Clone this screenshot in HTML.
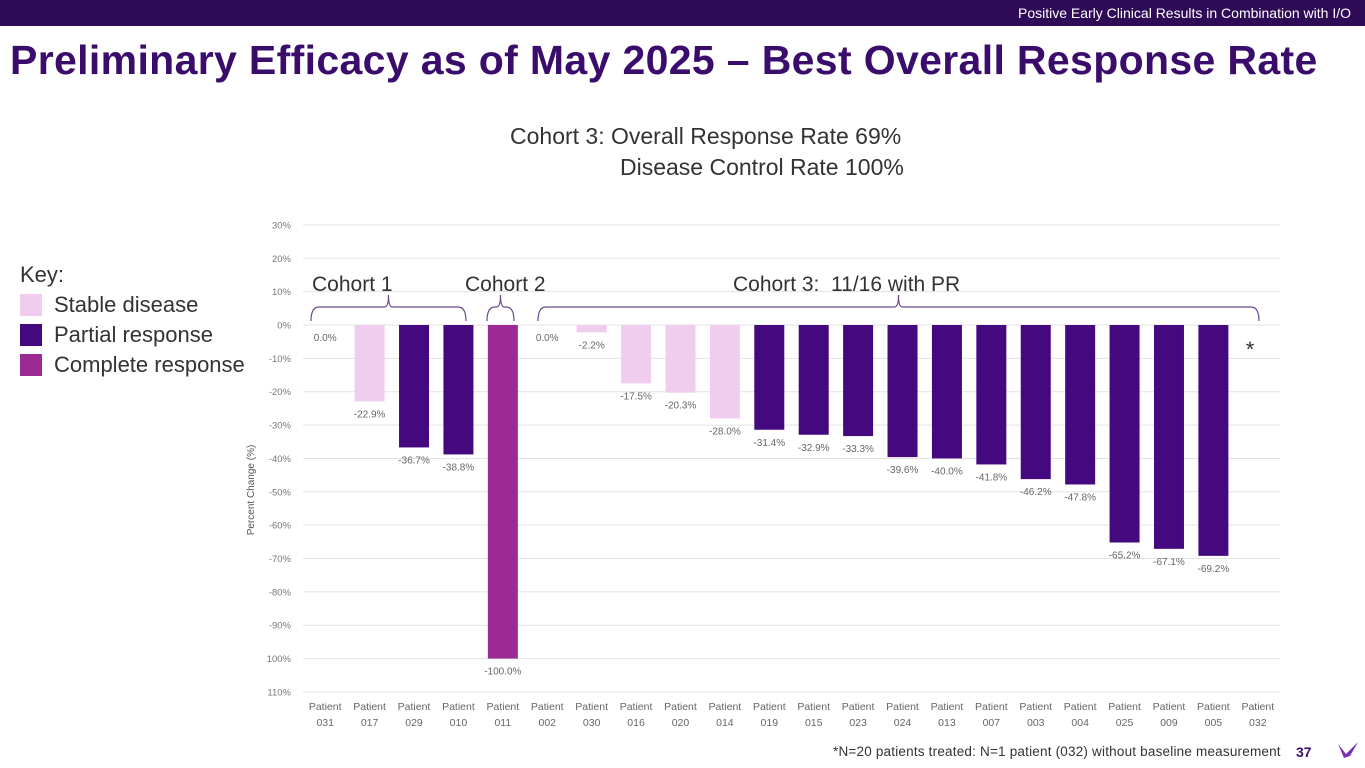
<!DOCTYPE html>
<html><head><meta charset="utf-8"><style>
body{margin:0;width:1365px;height:768px;overflow:hidden;background:#fff;font-family:"Liberation Sans",sans-serif;position:relative}
.abs{position:absolute}
</style></head><body>
<div class="abs" style="left:0;top:0;width:1365px;height:26px;background:#2e0a57"></div>
<div class="abs" style="right:14px;top:5px;color:#fff;font-size:14px">Positive Early Clinical Results in Combination with I/O</div>
<div class="abs" style="left:10px;top:37px;color:#3a0d6c;font-size:41px;letter-spacing:0.35px;font-weight:bold;white-space:nowrap">Preliminary Efficacy as of May 2025 – Best Overall Response Rate</div>
<div class="abs" style="left:510px;top:121px;color:#333;font-size:23px;line-height:31px;white-space:nowrap">Cohort 3: Overall Response Rate 69%<br><span style="padding-left:110px">Disease Control Rate 100%</span></div>
<div class="abs" style="left:20px;top:260px;color:#333;font-size:22px;line-height:30px">
<div>Key:</div>
<div><span style="display:inline-block;width:22px;height:22px;background:#f0cdee;vertical-align:-4px;margin-right:12px"></span>Stable disease</div>
<div><span style="display:inline-block;width:22px;height:22px;background:#45097f;vertical-align:-4px;margin-right:12px"></span>Partial response</div>
<div><span style="display:inline-block;width:22px;height:22px;background:#9b2a94;vertical-align:-4px;margin-right:12px"></span>Complete response</div>
</div>
<svg class="abs" style="left:0;top:0" width="1365" height="768" id="chart"></svg>
<div class="abs" style="left:833px;top:744px;font-size:13.5px;letter-spacing:0.2px;color:#333;white-space:nowrap">*N=20 patients treated:  N=1 patient (032) without baseline measurement</div>
<div class="abs" style="left:1296px;top:744px;font-size:14px;font-weight:bold;color:#3a0d6c">37</div>
<svg class="abs" style="left:1336px;top:740px" width="24" height="20"><path d="M2 4 L10 14 L22 2 L14 16 L8 18 Z" fill="#7a2fb5"/></svg>
<script>
const categories=["031","017","029","010","011","002","030","016","020","014","019","015","023","024","013","007","003","004","025","009","005","032"];
const values=[0,-22.9,-36.7,-38.8,-100,0,-2.2,-17.5,-20.3,-28.0,-31.4,-32.9,-33.3,-39.6,-40.0,-41.8,-46.2,-47.8,-65.2,-67.1,-69.2,null];
const responses=["S","S","P","P","C","S","S","S","S","S","P","P","P","P","P","P","P","P","P","P","P",null];
const ticks=[30,20,10,0,-10,-20,-30,-40,-50,-60,-70,-80,-90,-100,-110];
const tickLabels=["30%","20%","10%","0%","-10%","-20%","-30%","-40%","-50%","-60%","-70%","-80%","-90%","100%","110%"];
const NS="http://www.w3.org/2000/svg";
const svg=document.getElementById('chart');
const x0=303,x1=1280,band=(x1-x0)/categories.length;
const y=v=>325-v*3.336;
const xc=i=>x0+band*(i+0.5);
const colors={S:"#f0cdee",P:"#45097f",C:"#9b2a94"};
function mk(t,a,txt){const e=document.createElementNS(NS,t);for(const k in a)e.setAttribute(k,a[k]);if(txt!=null)e.textContent=txt;svg.appendChild(e);return e;}
ticks.forEach((t,i)=>{
 const g=mk('line',{x1:x0,x2:x1,y1:y(t),y2:y(t),stroke:'#e3e3e3','stroke-width':1});
 
 
 const l=mk('text',{x:291,y:y(t)+3.5,'text-anchor':'end','font-size':9.5,fill:'#777'},tickLabels[i]);
 
 
});
const yt=mk('text',{x:0,y:0,transform:'translate(254,490) rotate(-90)','text-anchor':'middle','font-size':10,fill:'#555'},'Percent Change (%)');


categories.forEach((c,i)=>{
 const cx=xc(i);
 const a=mk('text',{x:cx,y:710,'text-anchor':'middle','font-size':10.5,fill:'#666'},'Patient');
 
 
 const b=mk('text',{x:cx,y:726,'text-anchor':'middle','font-size':10.5,fill:'#666'},c);
 
 
 const v=values[i];
 if(v==null)return;
 if(v<0){
  const r=mk('rect',{x:cx-15,y:y(0),width:30,height:y(v)-y(0),fill:colors[responses[i]]});
  
  
 }
 const lb=mk('text',{x:cx,y:y(v)+16,'text-anchor':'middle','font-size':10,fill:'#666'},v.toFixed(1)+'%');
 
 
});
const star=mk('text',{x:1250,y:357,'text-anchor':'middle','font-size':22,fill:'#333'},'*');


function brace(xa,xb,name,label,lx){
 const m=(xa+xb)/2;
 const p=mk('path',{d:`M${xa} 321 Q${xa} 307 ${xa+8} 307 L${m-4} 307 Q${m} 307 ${m} 295 Q${m} 307 ${m+4} 307 L${xb-8} 307 Q${xb} 307 ${xb} 321`,fill:'none',stroke:'#6a4a8a','stroke-width':1.2});
 
 
 const t=mk('text',{x:lx,y:291,'font-size':21,fill:'#333','xml:space':'preserve'},label);
 
 
 t.style.whiteSpace='pre';
}
brace(311,466,'cohort1','Cohort 1',312);
brace(487,514,'cohort2','Cohort 2',465);
brace(538,1259,'cohort3','Cohort 3:  11/16 with PR',733);
</script>
</body></html>
